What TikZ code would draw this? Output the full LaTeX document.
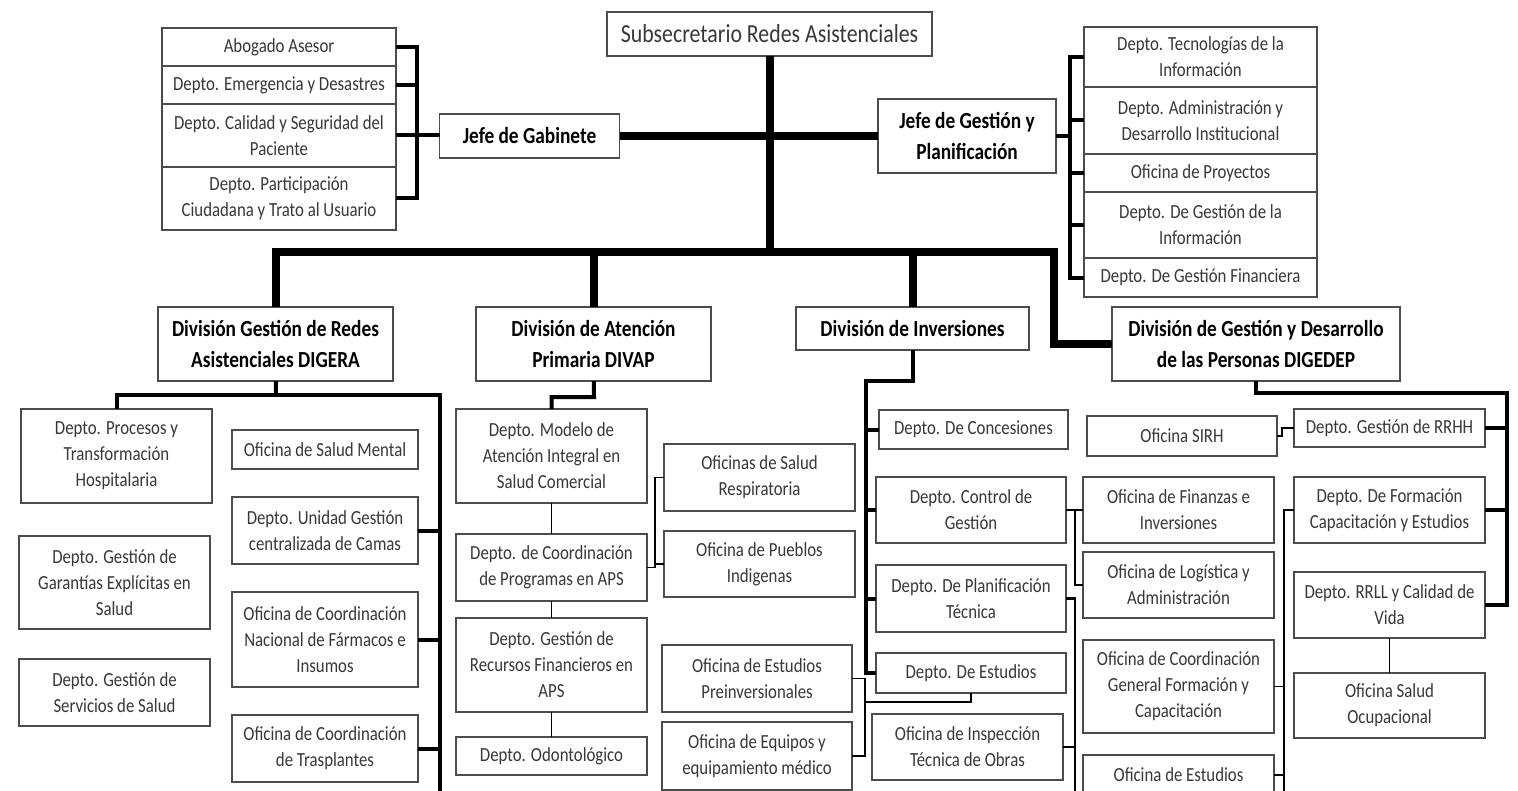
\documentclass[tikz,border=0pt]{standalone}
\usepackage{fontspec}
\setmainfont{Carlito}[FakeStretch=0.84]
\usetikzlibrary{positioning}

\begin{document}
\begin{tikzpicture}[x=0.5pt,y=-0.5pt,
    box/.style={draw=black!70, line width=0.8pt, fill=white, align=center,
        inner sep=1pt, outer sep=0pt, text=black!78,
        font=\fontsize{10}{13}\selectfont},
    head/.style={box, text=black, font=\fontsize{11.5}{15.3}\selectfont\bfseries},
    sz/.style 2 args={minimum width=#1*0.5pt, minimum height=#2*0.5pt},
    bus/.style={line width=4pt},
    link/.style={line width=2pt},
    thin/.style={line width=0.8pt},
]
\useasboundingbox[fill=white] (0,0) rectangle (1518,791);
\clip (0,0) rectangle (1518,791);

\node[box, sz={325}{44}, font=\fontsize{13}{15}\selectfont] (sub) at (769.5,34)
    {Subsecretario Redes Asistenciales};
\node[head, sz={180}{44}] (gab) at (529.5,136) {Jefe de Gabinete};
\node[head, sz={178}{74}] (jgp) at (967,136) {Jefe de Gestión y\\Planificación};

\node[box, sz={234}{38}] (abo) at (279,47) {Abogado Asesor};
\node[box, sz={234}{38}, below=0pt of abo] (eme) {Depto. Emergencia y Desastres};
\node[box, sz={234}{63}, below=0pt of eme] (cal) {Depto. Calidad y Seguridad del\\Paciente};
\node[box, sz={234}{63}, below=0pt of cal] (par) {Depto. Participación\\Ciudadana y Trato al Usuario};

\node[box, sz={233}{60}] (tec) at (1200.5,57) {Depto. Tecnologías de la\\Información};
\node[box, sz={233}{67}, below=0pt of tec] (adm) {Depto. Administración y\\Desarrollo Institucional};
\node[box, sz={233}{38}, below=0pt of adm] (ofp) {Oficina de Proyectos};
\node[box, sz={233}{66}, below=0pt of ofp] (gin) {Depto. De Gestión de la\\Información};
\node[box, sz={233}{39}, below=0pt of gin] (gfi) {Depto. De Gestión Financiera};

\node[head, sz={235}{74}] (digera) at (275.5,344) {División Gestión de Redes\\Asistenciales DIGERA};
\node[head, sz={235}{74}] (divap) at (593.5,344) {División de Atención\\Primaria DIVAP};
\node[head, sz={233}{43}] (inv) at (912.5,328.5) {División de Inversiones};
\node[head, sz={288}{74}] (digedep) at (1256,344) {División de Gestión y Desarrollo\\de las Personas DIGEDEP};

\node[box, sz={191}{94}] (pro) at (116.5,456) {Depto. Procesos y\\Transformación\\Hospitalaria};
\node[box, sz={191}{93}] (gar) at (114.5,582.5) {Depto. Gestión de\\Garantías Explícitas en\\Salud};
\node[box, sz={191}{67}] (ser) at (114.5,692.5) {Depto. Gestión de\\Servicios de Salud};
\node[box, sz={186}{39}] (sme) at (325,449.5) {Oficina de Salud Mental};
\node[box, sz={186}{67}] (cam) at (325,530.5) {Depto. Unidad Gestión\\centralizada de Camas};
\node[box, sz={186}{95}] (far) at (325,639.5) {Oficina de Coordinación\\Nacional de Fármacos e\\Insumos};
\node[box, sz={186}{67}] (tra) at (325,748.5) {Oficina de Coordinación\\de Trasplantes};

\node[box, sz={191}{94}] (mod) at (551.5,456) {Depto. Modelo de\\Atención Integral en\\Salud Comercial};
\node[box, sz={191}{67}] (cpr) at (551.5,567.5) {Depto. de Coordinación\\de Programas en APS};
\node[box, sz={191}{94}] (rfi) at (551.5,665) {Depto. Gestión de\\Recursos Financieros en\\APS};
\node[box, sz={191}{38}] (odo) at (551.5,756) {Depto. Odontológico};
\node[box, sz={191}{67}] (res) at (759.5,477.5) {Oficinas de Salud\\Respiratoria};
\node[box, sz={191}{66}] (pue) at (759.5,564) {Oficina de Pueblos\\Indigenas};
\node[box, sz={190}{67}] (pre) at (757,678.5) {Oficina de Estudios\\Preinversionales};
\node[box, sz={190}{68}] (equ) at (757,756) {Oficina de Equipos y\\equipamiento médico};

\node[box, sz={189}{39}] (con) at (973.5,429.5) {Depto. De Concesiones};
\node[box, sz={190}{66}] (cdg) at (971,510) {Depto. Control de\\Gestión};
\node[box, sz={190}{67}] (pla) at (971,598.5) {Depto. De Planificación\\Técnica};
\node[box, sz={190}{40}] (est) at (971,673) {Depto. De Estudios};
\node[box, sz={191}{66}] (ins) at (967.5,747) {Oficina de Inspección\\Técnica de Obras};
\node[box, sz={191}{66}] (fin) at (1178.5,510) {Oficina de Finanzas e\\Inversiones};
\node[box, sz={191}{66}] (log) at (1178.5,585) {Oficina de Logística y\\Administración};
\node[box, sz={191}{93}] (cgf) at (1178.5,686.5) {Oficina de Coordinación\\General Formación y\\Capacitación};
\node[box, sz={191}{40}] (oes) at (1178.5,775) {Oficina de Estudios};

\node[box, sz={190}{40}] (sir) at (1182,436) {Oficina SIRH};
\node[box, sz={191}{38}] (rrh) at (1389.5,428) {Depto. Gestión de RRHH};
\node[box, sz={191}{66}] (frm) at (1389.5,510) {Depto. De Formación\\Capacitación y Estudios};
\node[box, sz={191}{66}] (rrl) at (1389.5,605) {Depto. RRLL y Calidad de\\Vida};
\node[box, sz={191}{65}] (ocu) at (1389.5,705.5) {Oficina Salud\\Ocupacional};

\coordinate (bend) at (1054,252);
\coordinate (dgbus) at (276,395);
\coordinate (dgend) at (440,800);
\coordinate (dvbus) at (594,397);
\coordinate (dvj) at (655,567);
\coordinate (ivtop) at (866,381);
\coordinate (ivbot) at (866,673);
\coordinate (pex) at (865,702);
\coordinate (cfx) at (1075,510);
\coordinate (piend) at (1075,800);
\coordinate (dpbus) at (1507,393);
\coordinate (fmend) at (1284,800);

\draw[bus] (gab) -- (jgp);
\draw[bus] (sub) -- (sub |- bend);
\draw[bus] (digera) |- (bend) |- (digedep);
\draw[bus] (divap) -- (divap |- bend);
\draw[bus] (inv) -- (inv |- bend);

\draw[link] (abo.east) -- ++(21,0) |- (par.east);
\draw[link] (eme.east) -- ++(21,0) (cal.east) -- (gab.west |- cal.east);
\draw[link] (tec.west) -- ++(-14,0) |- (gfi.west);
\draw[link] (adm.west) -- ++(-14,0) (ofp.west) -- ++(-14,0) (gin.west) -- ++(-14,0)
    (jgp.east) -- ++(14,0);

\draw[link] (digera) -- (dgbus);
\draw[link] (pro) |- (dgbus) -| (dgend);
\draw[link] (cam) -- (cam -| dgend) (far) -- (far -| dgend) (tra) -- (tra -| dgend);

\draw[link] (divap) -- (dvbus) -| (mod);
\draw[thin] (mod) -- (cpr) (cpr) -- (rfi) (rfi) -- (odo);
\draw[thin] (cpr) -- (cpr -| dvj) |- (res);
\draw[thin] (pue) -- (pue -| dvj);

\draw[link] (inv) |- (ivtop) -- (ivbot) -- (est);
\draw[link] (con) -- (con -| ivtop) (cdg) -- (cdg -| ivtop) (pla) -- (pla -| ivtop);
\draw[thin] (est) |- (pex);
\draw[thin] (pre) -| (pex) (equ) -| (pex);
\draw[thin] (cdg) -- (fin);
\draw[thin] (log) -| (cfx);
\draw[line width=1.3pt] (pla) -| (piend) (ins) -- (ins -| piend);

\draw[link] (digedep) |- (dpbus) |- (rrl);
\draw[link] (rrh) -- (rrh -| dpbus) (frm) -- (frm -| dpbus);
\draw[thin] (sir.east) -- ++(5,0) |- (rrh);
\draw[thin] (rrl) -- (ocu);
\draw[thin] (frm) -| (fmend);
\draw[thin] (cgf) -- (cgf -| fmend) (oes) -- (oes -| fmend);
\end{tikzpicture}
\end{document}
